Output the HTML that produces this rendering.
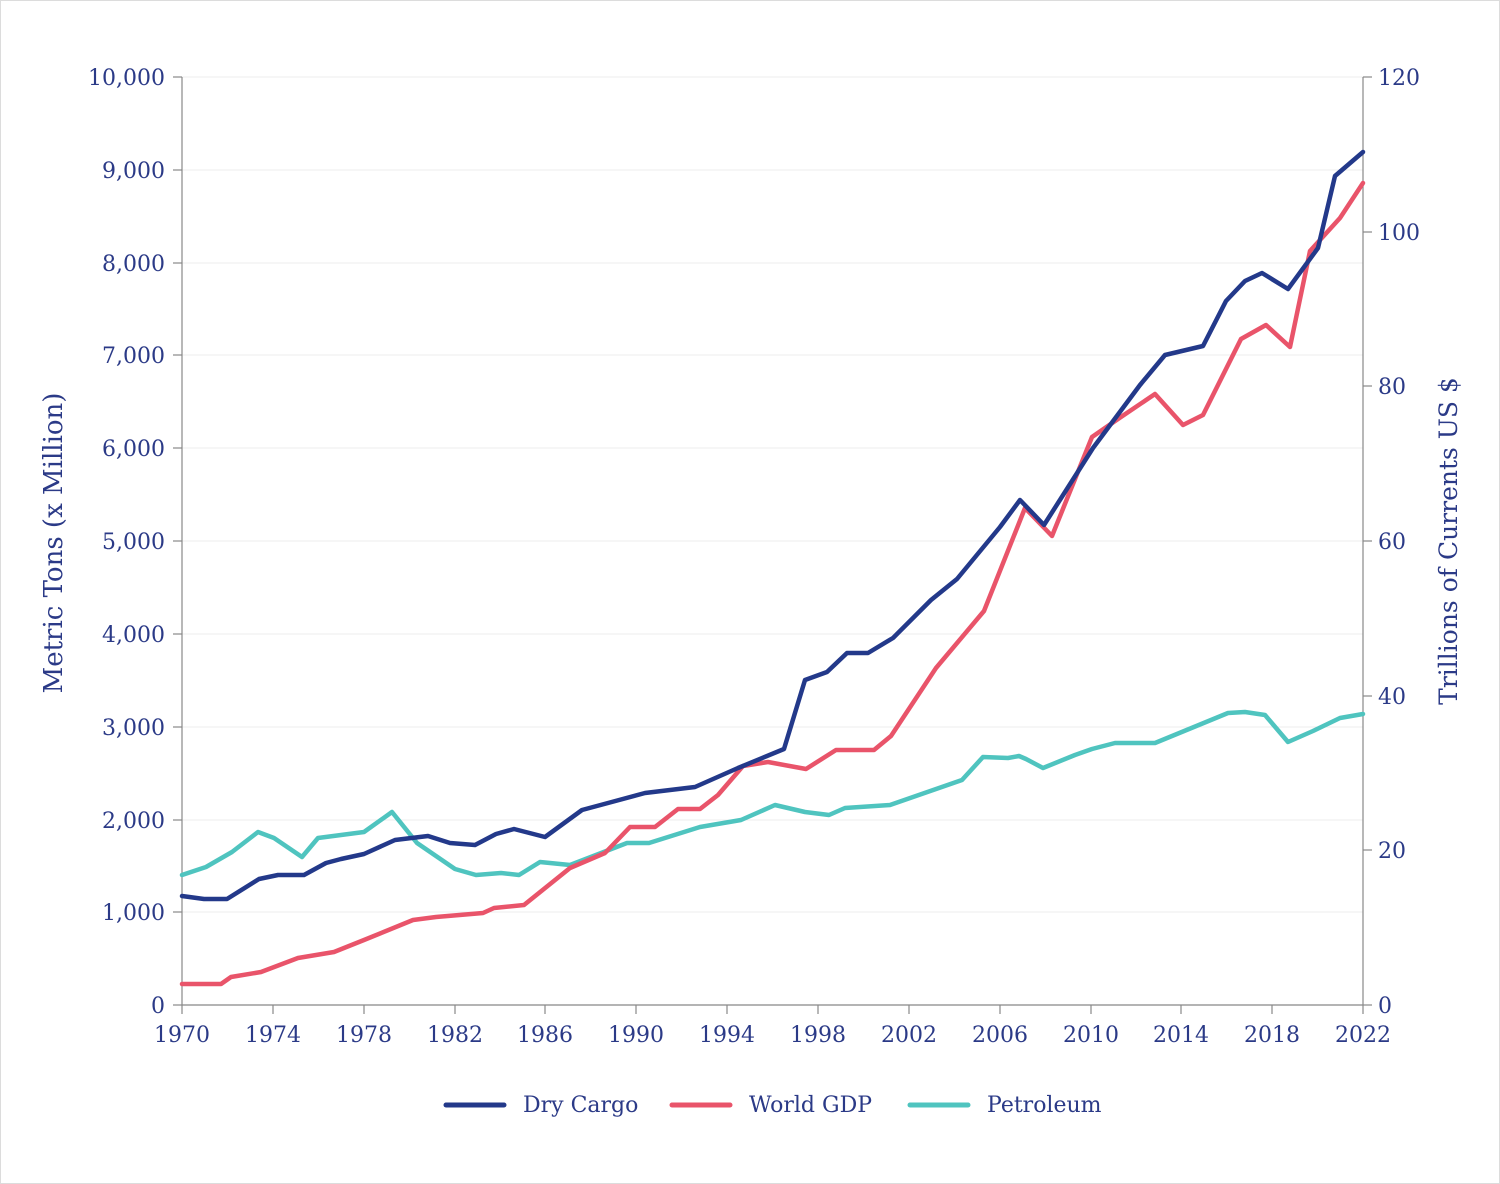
<!DOCTYPE html>
<html><head><meta charset="utf-8"><style>
html,body{margin:0;padding:0;background:#fff}
svg{display:block}
text{font-family:"DejaVu Serif","Liberation Serif",serif;fill:#2b3a87}
</style></head><body>
<svg width="1500" height="1184" viewBox="0 0 1500 1184" xmlns="http://www.w3.org/2000/svg">
<rect x="0.5" y="0.5" width="1499" height="1183" fill="#fff" stroke="#dcdcdc"/>
<g stroke="#ececec" stroke-width="1">
<line x1="182" x2="1363" y1="77" y2="77"/><line x1="182" x2="1363" y1="170" y2="170"/>
<line x1="182" x2="1363" y1="263" y2="263"/><line x1="182" x2="1363" y1="355" y2="355"/>
<line x1="182" x2="1363" y1="448" y2="448"/><line x1="182" x2="1363" y1="541" y2="541"/>
<line x1="182" x2="1363" y1="634" y2="634"/><line x1="182" x2="1363" y1="727" y2="727"/>
<line x1="182" x2="1363" y1="820" y2="820"/><line x1="182" x2="1363" y1="912" y2="912"/>
</g>
<g stroke="#888" stroke-width="1.2">
<line x1="182" y1="77" x2="182" y2="1005"/><line x1="1363" y1="77" x2="1363" y2="1005"/>
<line x1="182" y1="1005" x2="1363" y2="1005"/>
<line x1="173" x2="182" y1="77" y2="77"/><line x1="173" x2="182" y1="170" y2="170"/><line x1="173" x2="182" y1="263" y2="263"/><line x1="173" x2="182" y1="355" y2="355"/><line x1="173" x2="182" y1="448" y2="448"/><line x1="173" x2="182" y1="541" y2="541"/><line x1="173" x2="182" y1="634" y2="634"/><line x1="173" x2="182" y1="727" y2="727"/><line x1="173" x2="182" y1="820" y2="820"/><line x1="173" x2="182" y1="912" y2="912"/><line x1="173" x2="182" y1="1005" y2="1005"/>
<line x1="1363" x2="1372" y1="77" y2="77"/><line x1="1363" x2="1372" y1="232" y2="232"/><line x1="1363" x2="1372" y1="386" y2="386"/><line x1="1363" x2="1372" y1="541" y2="541"/><line x1="1363" x2="1372" y1="696" y2="696"/><line x1="1363" x2="1372" y1="850" y2="850"/><line x1="1363" x2="1372" y1="1005" y2="1005"/>
<line x1="182" x2="182" y1="1005" y2="1014"/><line x1="273" x2="273" y1="1005" y2="1014"/><line x1="364" x2="364" y1="1005" y2="1014"/><line x1="455" x2="455" y1="1005" y2="1014"/><line x1="545" x2="545" y1="1005" y2="1014"/><line x1="636" x2="636" y1="1005" y2="1014"/><line x1="727" x2="727" y1="1005" y2="1014"/><line x1="818" x2="818" y1="1005" y2="1014"/><line x1="909" x2="909" y1="1005" y2="1014"/><line x1="1000" x2="1000" y1="1005" y2="1014"/><line x1="1091" x2="1091" y1="1005" y2="1014"/><line x1="1181" x2="1181" y1="1005" y2="1014"/><line x1="1272" x2="1272" y1="1005" y2="1014"/><line x1="1363" x2="1363" y1="1005" y2="1014"/>
</g>
<g font-size="22" text-anchor="end">
<text x="165" y="85">10,000</text><text x="165" y="178">9,000</text><text x="165" y="271">8,000</text><text x="165" y="363">7,000</text><text x="165" y="456">6,000</text><text x="165" y="549">5,000</text><text x="165" y="642">4,000</text><text x="165" y="735">3,000</text><text x="165" y="828">2,000</text><text x="165" y="920">1,000</text><text x="165" y="1013">0</text>
</g>
<g font-size="22" text-anchor="start">
<text x="1378" y="85">120</text><text x="1378" y="240">100</text><text x="1378" y="394">80</text><text x="1378" y="549">60</text><text x="1378" y="704">40</text><text x="1378" y="858">20</text><text x="1378" y="1013">0</text>
</g>
<g font-size="22" text-anchor="middle">
<text x="182" y="1042">1970</text><text x="273" y="1042">1974</text><text x="364" y="1042">1978</text><text x="455" y="1042">1982</text><text x="545" y="1042">1986</text><text x="636" y="1042">1990</text><text x="727" y="1042">1994</text><text x="818" y="1042">1998</text><text x="909" y="1042">2002</text><text x="1000" y="1042">2006</text><text x="1091" y="1042">2010</text><text x="1181" y="1042">2014</text><text x="1272" y="1042">2018</text><text x="1363" y="1042">2022</text>
</g>
<text font-size="26" text-anchor="middle" transform="translate(62,543) rotate(-90)">Metric Tons (x Million)</text>
<text font-size="25" text-anchor="middle" transform="translate(1457,541) rotate(-90)">Trillions of Currents US $</text>
<g fill="none" stroke-width="4.5" stroke-linejoin="round" stroke-linecap="round">
<polyline stroke="#4fc4bf" points="182,875 206,867 232,852 258,832 274,838 302,857 318,838 364,832 392,812 417,843 455,869 476,875 501,873 519,875 540,862 570,865 627,843 649,843 700,827 741,820 775,805 805,812 829,815 845,808 890,805 962,780 983,757 1008,758 1019,756 1026,759 1043,768 1075,755 1092,749 1115,743 1155,743 1228,713 1245,712 1265,715 1288,742 1313,731 1340,718 1363,714"/>
<polyline stroke="#e9546a" points="182,984 221,984 231,977 261,972 298,958 334,952 364,940 413,920 436,917 483,913 494,908 524,905 570,868 605,853 630,827 655,827 678,809 700,809 718,795 743,766 768,762 806,769 836,750 874,750 891,736 936,668 984,611 1025,508 1052,536 1092,437 1118,419 1155,394 1183,425 1203,415 1241,339 1266,325 1290,347 1310,251 1340,218 1363,183"/>
<polyline stroke="#23398a" points="182,896 204,899 227,899 259,879 278,875 304,875 326,863 341,859 364,854 395,840 428,836 450,843 475,845 496,834 514,829 545,837 582,810 608,803 645,793 695,787 738,768 784,749 805,680 827,672 847,653 868,653 893,638 931,600 957,579 1000,527 1020,500 1044,525 1093,448 1140,385 1165,355 1203,346 1226,301 1245,281 1262,273 1288,289 1318,248 1335,176 1363,152"/>
</g>
<g stroke-width="5" stroke-linecap="round">
<line x1="446" x2="504" y1="1105" y2="1105" stroke="#23398a"/>
<line x1="672" x2="730" y1="1105" y2="1105" stroke="#e9546a"/>
<line x1="910" x2="968" y1="1105" y2="1105" stroke="#4fc4bf"/>
</g>
<g font-size="22">
<text x="523" y="1112">Dry Cargo</text>
<text x="749" y="1112">World GDP</text>
<text x="987" y="1112">Petroleum</text>
</g>
</svg>
</body></html>
